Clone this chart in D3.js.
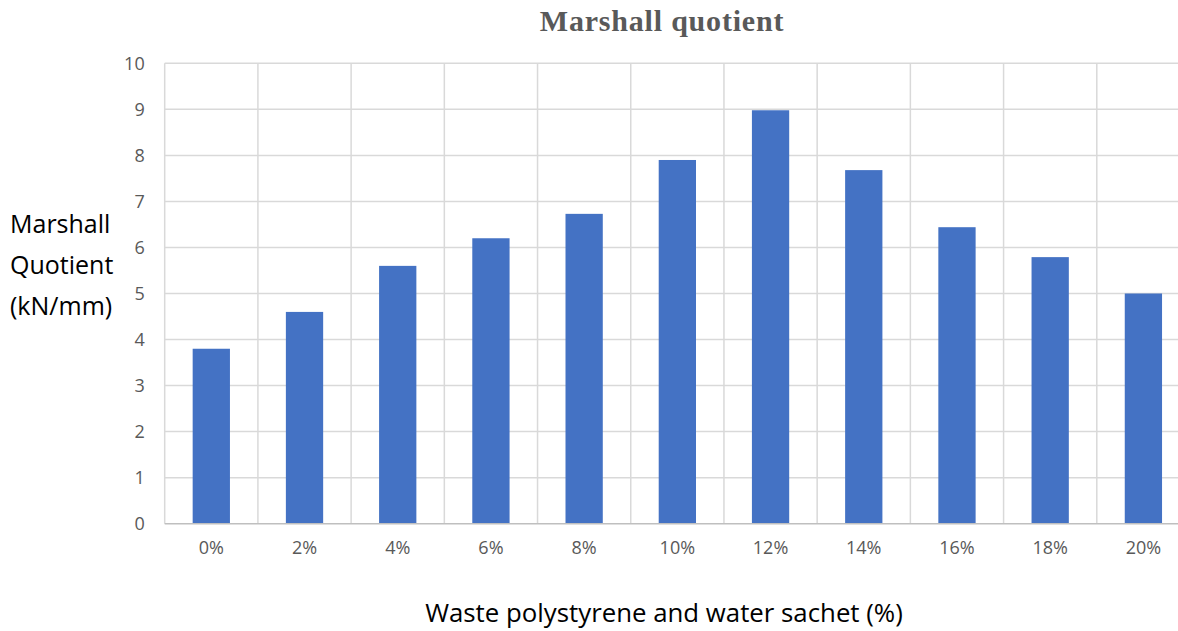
<!DOCTYPE html>
<html>
<head>
<meta charset="utf-8">
<script src="https://cdn.jsdelivr.net/npm/d3@7"></script>
<style>
  html, body { margin: 0; padding: 0; background: #fff; }
  svg { display: block; }
</style>
</head>
<body>
<svg id="chart" width="1178" height="631"></svg>
<script>
// Marshall quotient by additive content
const categories = ["0%", "2%", "4%", "6%", "8%", "10%", "12%", "14%", "16%", "18%", "20%"];
const quotient = [3.8, 4.6, 5.6, 6.2, 6.73, 7.9, 8.98, 7.68, 6.44, 5.79, 5.0];
const yTicks = [0, 1, 2, 3, 4, 5, 6, 7, 8, 9, 10];

const svg = d3.select("#chart");
const plot = { left: 164.7, right: 1190, top: 63.3, bottom: 523.7 };

const x = d3.scaleBand()
  .domain(categories)
  .range([plot.left, plot.right])
  .paddingInner(0.6)
  .paddingOuter(0.3);

const y = d3.scaleLinear().domain([0, 10]).range([plot.bottom, plot.top]);

// band boundaries for vertical gridlines
const step = x.step();
const bounds = d3.range(categories.length + 1).map(i => plot.left + i * step);

const grid = svg.append("g");
grid.selectAll("line.h")
  .data(yTicks.filter(t => t > 0))
  .join("line")
  .attr("x1", plot.left).attr("x2", plot.right)
  .attr("y1", d => y(d)).attr("y2", d => y(d))
  .attr("stroke", "#d9d9d9").attr("stroke-width", 1.5);
grid.selectAll("line.v")
  .data(bounds)
  .join("line")
  .attr("x1", d => d).attr("x2", d => d)
  .attr("y1", plot.top).attr("y2", plot.bottom)
  .attr("stroke", "#d9d9d9").attr("stroke-width", 1.5);

// bars
svg.append("g").selectAll("rect")
  .data(categories)
  .join("rect")
  .attr("x", d => x(d))
  .attr("width", x.bandwidth())
  .attr("y", (d, i) => y(quotient[i]))
  .attr("height", (d, i) => y(0) - y(quotient[i]))
  .attr("fill", "#4472c4");

// baseline
svg.append("line")
  .attr("x1", plot.left).attr("x2", plot.right)
  .attr("y1", y(0)).attr("y2", y(0))
  .attr("stroke", "#bfbfbf").attr("stroke-width", 1.5);

const textFont = "'Open Sans', Lato, sans-serif";

// y axis
const yAxis = d3.axisLeft(y).tickValues(yTicks).tickSize(0).tickPadding(20);
const gy = svg.append("g").attr("transform", `translate(${plot.left},0)`).call(yAxis);
gy.select(".domain").remove();
gy.selectAll("text")
  .attr("fill", "#595959")
  .style("font-family", textFont)
  .style("font-size", "18px");

// x axis
const xAxis = d3.axisBottom(x).tickSize(0).tickPadding(18);
const gx = svg.append("g").attr("transform", `translate(0,${plot.bottom})`).call(xAxis);
gx.select(".domain").remove();
gx.selectAll("text")
  .attr("fill", "#595959")
  .style("font-family", textFont)
  .style("font-size", "18px");

// title
svg.append("text")
  .attr("x", 662).attr("y", 31)
  .attr("text-anchor", "middle")
  .attr("fill", "#595959")
  .style("font-family", "'Liberation Serif', 'Times New Roman', serif")
  .style("font-weight", "bold")
  .style("font-size", "30px")
  .style("letter-spacing", "0.8px")
  .text("Marshall quotient");

// y axis title
const yTitle = svg.append("text")
  .attr("fill", "#000")
  .style("font-family", textFont)
  .style("font-size", "25px");
["Marshall", "Quotient", "(kN/mm)"].forEach((s, i) => {
  yTitle.append("tspan").attr("x", 10).attr("y", 233 + i * 41).text(s);
});

// x axis title
svg.append("text")
  .attr("x", 664).attr("y", 622)
  .attr("text-anchor", "middle")
  .attr("fill", "#000")
  .style("font-family", textFont)
  .style("font-size", "25.8px")
  .text("Waste polystyrene and water sachet (%)");
</script>
</body>
</html>
